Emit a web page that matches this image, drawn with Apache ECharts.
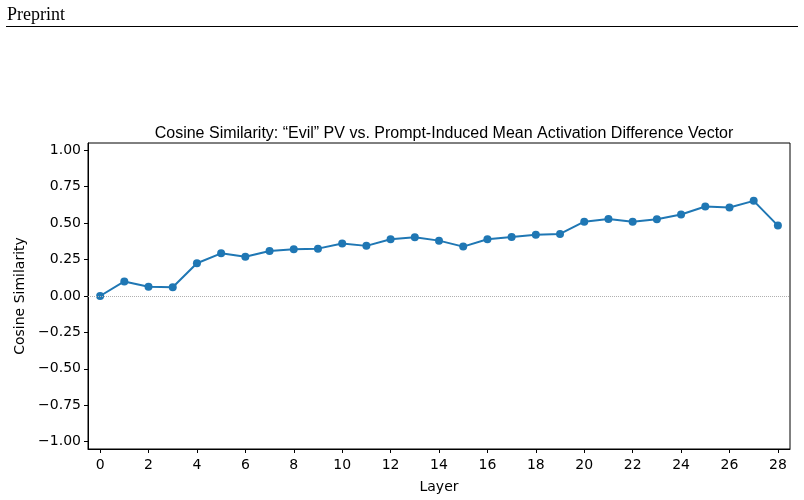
<!DOCTYPE html>
<html>
<head>
<meta charset="utf-8">
<script src="https://cdn.jsdelivr.net/npm/echarts@6/dist/echarts.min.js"></script>
<style>html,body{margin:0;padding:0;background:#fff;}#c{width:804px;height:500px;}</style>
</head>
<body>
<div id="c"></div>
<script>
const layers = ['0','1','2','3','4','5','6','7','8','9','10','11','12','13','14','15','16','17','18','19','20','21','22','23','24','25','26','27','28'];
const cosineSimilarity = [0.00, 0.10, 0.064, 0.06, 0.225, 0.293, 0.27, 0.309, 0.321, 0.325, 0.36, 0.344, 0.39, 0.403, 0.38, 0.339, 0.39, 0.405, 0.42, 0.426, 0.51, 0.529, 0.51, 0.527, 0.559, 0.614, 0.607, 0.653, 0.483];
const yTicks = [-1, -0.75, -0.5, -0.25, 0, 0.25, 0.5, 0.75, 1];

const chart = echarts.init(document.getElementById('c'), null, {renderer: 'canvas'});
const font = 'DejaVu Sans';
chart.setOption({
  animation: false,
  backgroundColor: '#fff',
  title: {
    text: 'Cosine Similarity: \u201cEvil\u201d PV vs. Prompt-Induced Mean Activation Difference Vector',
    left: 439, top: 121, textAlign: 'center',
    textStyle: {fontFamily: 'Liberation Sans', fontSize: 16, fontWeight: 'normal', color: '#000'}
  },
  graphic: [
    {type: 'text', left: 7, top: 6, style: {text: 'Preprint', font: '18px "Liberation Serif"', fill: '#000'}},
    {type: 'line', shape: {x1: 6, y1: 26.5, x2: 798, y2: 26.5}, style: {stroke: '#000', lineWidth: 1}}
  ],
  grid: {left: 88, right: 14, top: 143, bottom: 51, show: true, borderColor: '#000', borderWidth: 1, backgroundColor: 'transparent'},
  xAxis: {
    type: 'category', data: layers, boundaryGap: true,
    name: 'Layer', nameLocation: 'middle', nameGap: 31,
    nameTextStyle: {fontFamily: font, fontSize: 14, color: '#000'},
    axisLine: {show: true, onZero: false, lineStyle: {color: '#000', width: 1}},
    axisTick: {show: true, alignWithLabel: true, interval: 1, length: 4, lineStyle: {color: '#000'}},
    axisLabel: {interval: 1, fontFamily: font, fontSize: 14, color: '#000', margin: 9},
    splitLine: {show: false}
  },
  yAxis: {
    type: 'value', min: -1.05, max: 1.05,
    name: 'Cosine Similarity', nameLocation: 'middle', nameGap: 57,
    nameTextStyle: {fontFamily: font, fontSize: 14, color: '#000'},
    axisLine: {show: true, lineStyle: {color: '#000', width: 1}},
    axisTick: {show: true, length: 4, customValues: yTicks, lineStyle: {color: '#000'}},
    axisLabel: {
      customValues: yTicks, fontFamily: font, fontSize: 14, color: '#000', margin: 7,
      formatter: v => (v < 0 ? '\u2212' : '') + Math.abs(v).toFixed(2)
    },
    splitLine: {show: false}
  },
  series: [{
    type: 'line', data: cosineSimilarity,
    symbol: 'circle', symbolSize: 8,
    lineStyle: {color: '#1f77b4', width: 2},
    itemStyle: {color: '#1f77b4'},
    markLine: {
      silent: true, symbol: 'none', label: {show: false},
      lineStyle: {color: '#b0b0b0', type: 'dotted', width: 1},
      data: [{yAxis: 0}]
    }
  }]
});
</script>
</body>
</html>
